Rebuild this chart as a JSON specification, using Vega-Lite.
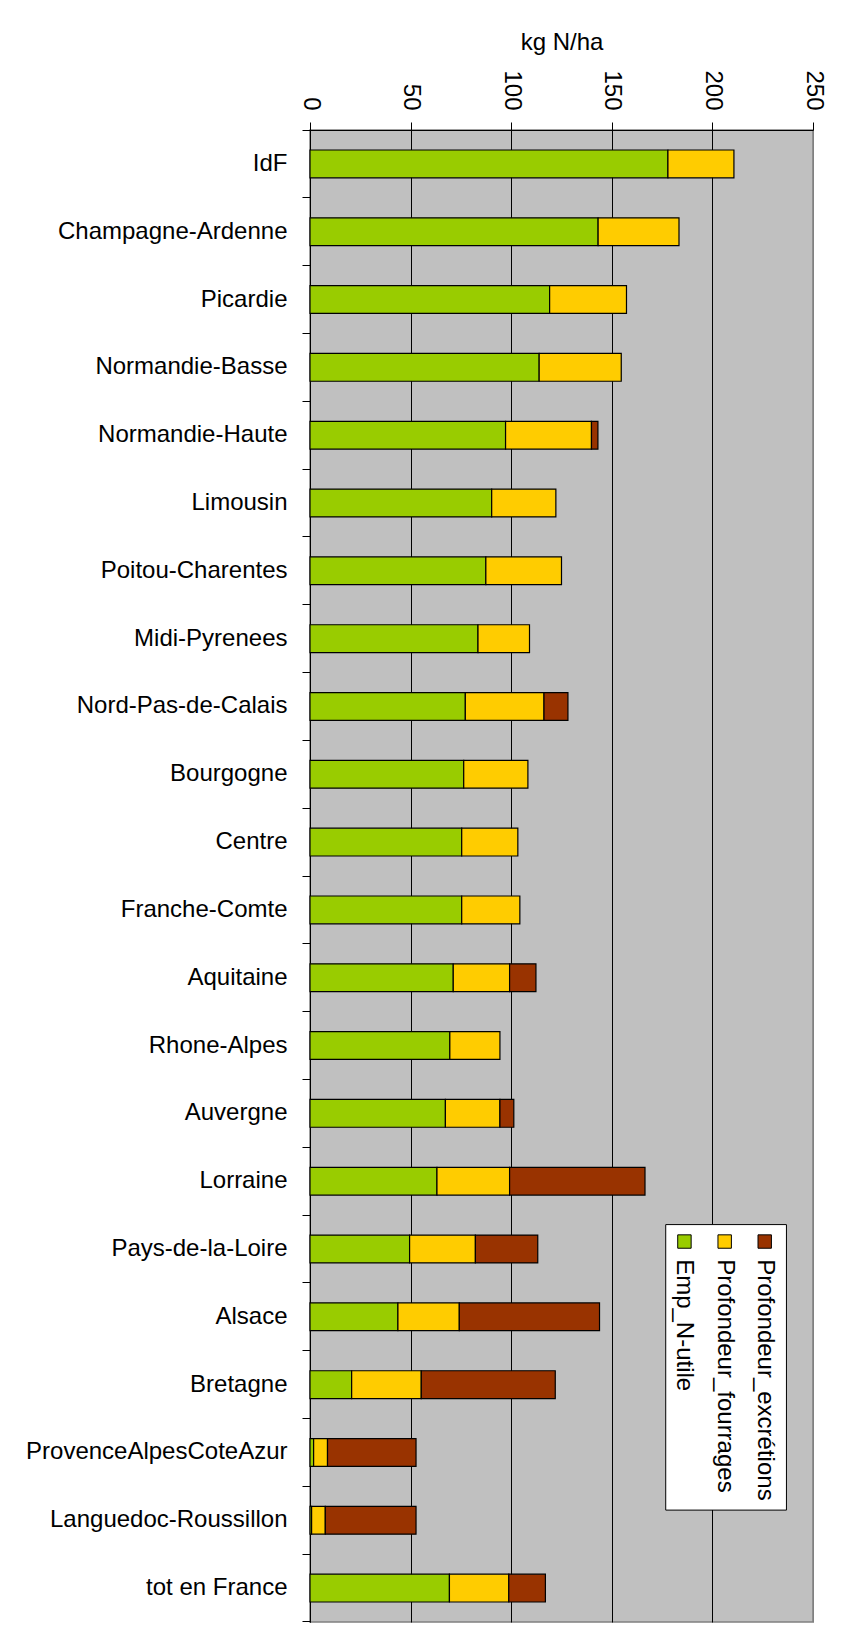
{
  "$schema": "https://vega.github.io/schema/vega-lite/v6.json",
  "width": 503,
  "height": 1492,
  "autosize": {"type": "none"},
  "padding": {"left": 310, "top": 130, "right": 42, "bottom": 26},
  "background": "white",
  "config": {
    "font": "Liberation Sans",
    "view": {"fill": "#C0C0C0", "stroke": "#808080", "strokeWidth": 1.5},
    "axis": {
      "labelFont": "Liberation Sans",
      "labelFontSize": 24,
      "labelColor": "black",
      "titleFont": "Liberation Sans",
      "titleFontSize": 24,
      "titleFontWeight": "normal",
      "titleColor": "black",
      "domainColor": "black",
      "domainWidth": 1,
      "tickColor": "black",
      "tickWidth": 1,
      "tickSize": 8
    }
  },
  "layer": [
    {
      "data": {
        "values": [
          {"region": "IdF", "series": "Emp_N-utile", "rank": 1, "value": 177.9},
          {"region": "IdF", "series": "Profondeur_fourrages", "rank": 2, "value": 32.8},
          {"region": "Champagne-Ardenne", "series": "Emp_N-utile", "rank": 1, "value": 143.2},
          {"region": "Champagne-Ardenne", "series": "Profondeur_fourrages", "rank": 2, "value": 40.2},
          {"region": "Picardie", "series": "Emp_N-utile", "rank": 1, "value": 119.1},
          {"region": "Picardie", "series": "Profondeur_fourrages", "rank": 2, "value": 38.2},
          {"region": "Normandie-Basse", "series": "Emp_N-utile", "rank": 1, "value": 113.9},
          {"region": "Normandie-Basse", "series": "Profondeur_fourrages", "rank": 2, "value": 40.8},
          {"region": "Normandie-Haute", "series": "Emp_N-utile", "rank": 1, "value": 97.2},
          {"region": "Normandie-Haute", "series": "Profondeur_fourrages", "rank": 2, "value": 42.7},
          {"region": "Normandie-Haute", "series": "Profondeur_excrétions", "rank": 3, "value": 3.2},
          {"region": "Limousin", "series": "Emp_N-utile", "rank": 1, "value": 90.3},
          {"region": "Limousin", "series": "Profondeur_fourrages", "rank": 2, "value": 31.9},
          {"region": "Poitou-Charentes", "series": "Emp_N-utile", "rank": 1, "value": 87.4},
          {"region": "Poitou-Charentes", "series": "Profondeur_fourrages", "rank": 2, "value": 37.6},
          {"region": "Midi-Pyrenees", "series": "Emp_N-utile", "rank": 1, "value": 83.5},
          {"region": "Midi-Pyrenees", "series": "Profondeur_fourrages", "rank": 2, "value": 25.6},
          {"region": "Nord-Pas-de-Calais", "series": "Emp_N-utile", "rank": 1, "value": 77.2},
          {"region": "Nord-Pas-de-Calais", "series": "Profondeur_fourrages", "rank": 2, "value": 39.1},
          {"region": "Nord-Pas-de-Calais", "series": "Profondeur_excrétions", "rank": 3, "value": 11.9},
          {"region": "Bourgogne", "series": "Emp_N-utile", "rank": 1, "value": 76.4},
          {"region": "Bourgogne", "series": "Profondeur_fourrages", "rank": 2, "value": 31.9},
          {"region": "Centre", "series": "Emp_N-utile", "rank": 1, "value": 75.4},
          {"region": "Centre", "series": "Profondeur_fourrages", "rank": 2, "value": 27.9},
          {"region": "Franche-Comte", "series": "Emp_N-utile", "rank": 1, "value": 75.4},
          {"region": "Franche-Comte", "series": "Profondeur_fourrages", "rank": 2, "value": 28.9},
          {"region": "Aquitaine", "series": "Emp_N-utile", "rank": 1, "value": 71.2},
          {"region": "Aquitaine", "series": "Profondeur_fourrages", "rank": 2, "value": 28.0},
          {"region": "Aquitaine", "series": "Profondeur_excrétions", "rank": 3, "value": 13.1},
          {"region": "Rhone-Alpes", "series": "Emp_N-utile", "rank": 1, "value": 69.5},
          {"region": "Rhone-Alpes", "series": "Profondeur_fourrages", "rank": 2, "value": 24.9},
          {"region": "Auvergne", "series": "Emp_N-utile", "rank": 1, "value": 67.3},
          {"region": "Auvergne", "series": "Profondeur_fourrages", "rank": 2, "value": 27.1},
          {"region": "Auvergne", "series": "Profondeur_excrétions", "rank": 3, "value": 6.9},
          {"region": "Lorraine", "series": "Emp_N-utile", "rank": 1, "value": 63.1},
          {"region": "Lorraine", "series": "Profondeur_fourrages", "rank": 2, "value": 36.1},
          {"region": "Lorraine", "series": "Profondeur_excrétions", "rank": 3, "value": 67.3},
          {"region": "Pays-de-la-Loire", "series": "Emp_N-utile", "rank": 1, "value": 49.5},
          {"region": "Pays-de-la-Loire", "series": "Profondeur_fourrages", "rank": 2, "value": 32.7},
          {"region": "Pays-de-la-Loire", "series": "Profondeur_excrétions", "rank": 3, "value": 31.0},
          {"region": "Alsace", "series": "Emp_N-utile", "rank": 1, "value": 43.7},
          {"region": "Alsace", "series": "Profondeur_fourrages", "rank": 2, "value": 30.5},
          {"region": "Alsace", "series": "Profondeur_excrétions", "rank": 3, "value": 69.7},
          {"region": "Bretagne", "series": "Emp_N-utile", "rank": 1, "value": 20.7},
          {"region": "Bretagne", "series": "Profondeur_fourrages", "rank": 2, "value": 34.6},
          {"region": "Bretagne", "series": "Profondeur_excrétions", "rank": 3, "value": 66.6},
          {"region": "ProvenceAlpesCoteAzur", "series": "Emp_N-utile", "rank": 1, "value": 1.8},
          {"region": "ProvenceAlpesCoteAzur", "series": "Profondeur_fourrages", "rank": 2, "value": 6.9},
          {"region": "ProvenceAlpesCoteAzur", "series": "Profondeur_excrétions", "rank": 3, "value": 44.0},
          {"region": "Languedoc-Roussillon", "series": "Emp_N-utile", "rank": 1, "value": 0.8},
          {"region": "Languedoc-Roussillon", "series": "Profondeur_fourrages", "rank": 2, "value": 6.8},
          {"region": "Languedoc-Roussillon", "series": "Profondeur_excrétions", "rank": 3, "value": 45.1},
          {"region": "tot en France", "series": "Emp_N-utile", "rank": 1, "value": 69.3},
          {"region": "tot en France", "series": "Profondeur_fourrages", "rank": 2, "value": 29.5},
          {"region": "tot en France", "series": "Profondeur_excrétions", "rank": 3, "value": 18.2}
        ]
      },
      "mark": {"type": "bar", "height": {"band": 0.41}, "stroke": "black", "strokeWidth": 1.2},
      "encoding": {
        "y": {
          "field": "region",
          "type": "nominal",
          "sort": null,
          "scale": {"paddingInner": 0, "paddingOuter": 0},
          "axis": {
            "title": null,
            "bandPosition": 1,
            "tickExtra": true,
            "labelPadding": 15,
            "labelAlign": "right",
            "labelBaseline": "middle",
            "labelLimit": 400,
            "grid": false
          }
        },
        "x": {
          "field": "value",
          "type": "quantitative",
          "stack": "zero",
          "scale": {"domain": [0, 250], "nice": false},
          "axis": {
            "orient": "top",
            "title": "kg N/ha",
            "values": [0, 50, 100, 150, 200, 250],
            "labelAngle": 90,
            "labelAlign": "right",
            "labelBaseline": "middle",
            "labelPadding": 12,
            "labelFlush": false,
            "labelOverlap": false,
            "grid": true,
            "gridColor": {"condition": {"test": "datum.value === 250", "value": "#808080"}, "value": "black"},
            "gridWidth": 1,
            "gridOpacity": 1,
            "titlePadding": 15
          }
        },
        "order": {"field": "rank", "type": "quantitative", "sort": "ascending"},
        "color": {
          "field": "series",
          "type": "nominal",
          "scale": {
            "domain": ["Emp_N-utile", "Profondeur_fourrages", "Profondeur_excrétions"],
            "range": ["#99CC00", "#FFCC00", "#993300"]
          },
          "legend": null
        }
      }
    },
    {
      "data": {"values": [{}]},
      "layer": [
        {
          "mark": {"type": "rect", "fill": "white", "stroke": "black", "strokeWidth": 1},
          "encoding": {
            "x": {"datum": 176.8, "type": "quantitative"},
            "x2": {"datum": 236.8},
            "y": {"datum": 16.14, "type": "quantitative", "scale": {"domain": [0, 22], "reverse": true, "nice": false, "zero": false}, "axis": null},
            "y2": {"datum": 20.35}
          }
        },
        {
          "mark": {"type": "square", "size": 180, "filled": true, "color": "#99CC00", "stroke": "black", "strokeWidth": 1, "opacity": 1},
          "encoding": {"x": {"datum": 186.1, "type": "quantitative"}, "y": {"datum": 16.39, "type": "quantitative"}}
        },
        {
          "mark": {"type": "square", "size": 180, "filled": true, "color": "#FFCC00", "stroke": "black", "strokeWidth": 1, "opacity": 1},
          "encoding": {"x": {"datum": 206.1, "type": "quantitative"}, "y": {"datum": 16.39, "type": "quantitative"}}
        },
        {
          "mark": {"type": "square", "size": 180, "filled": true, "color": "#993300", "stroke": "black", "strokeWidth": 1, "opacity": 1},
          "encoding": {"x": {"datum": 226.0, "type": "quantitative"}, "y": {"datum": 16.39, "type": "quantitative"}}
        },
        {
          "mark": {"type": "text", "text": "Emp_N-utile", "angle": 90, "align": "left", "baseline": "middle", "fontSize": 24, "font": "Liberation Sans", "color": "black"},
          "encoding": {"x": {"datum": 186.1, "type": "quantitative"}, "y": {"datum": 16.65, "type": "quantitative"}}
        },
        {
          "mark": {"type": "text", "text": "Profondeur_fourrages", "angle": 90, "align": "left", "baseline": "middle", "fontSize": 24, "font": "Liberation Sans", "color": "black"},
          "encoding": {"x": {"datum": 206.1, "type": "quantitative"}, "y": {"datum": 16.65, "type": "quantitative"}}
        },
        {
          "mark": {"type": "text", "text": "Profondeur_excrétions", "angle": 90, "align": "left", "baseline": "middle", "fontSize": 24, "font": "Liberation Sans", "color": "black"},
          "encoding": {"x": {"datum": 226.0, "type": "quantitative"}, "y": {"datum": 16.65, "type": "quantitative"}}
        }
      ]
    }
  ],
  "resolve": {"scale": {"y": "independent"}}
}
